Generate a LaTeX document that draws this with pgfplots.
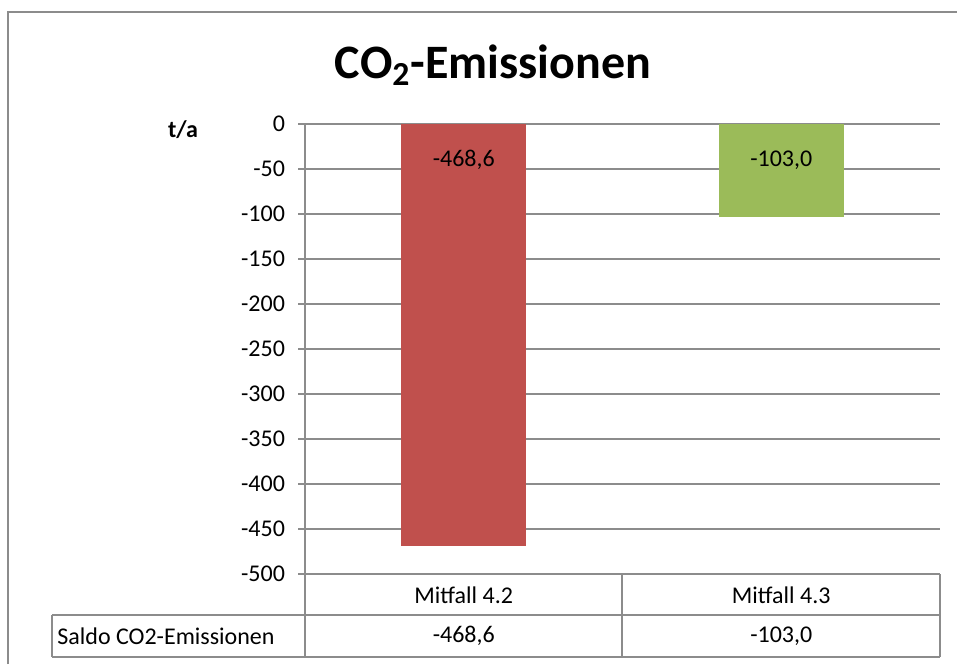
\documentclass[border=0pt]{standalone}
\usepackage{pgfplots}
\pgfplotsset{compat=1.18}
\usepackage{pgfplotstable}
\usepackage{fontspec}
\setmainfont{Carlito}
\definecolor{barred}{HTML}{C0504D}
\definecolor{bargreen}{HTML}{9BBB59}
\definecolor{gridc}{HTML}{8C8C8C}
\pgfplotstableread{
x y
1 -468.6
}\dataA
\pgfplotstableread{
x y
2 -103.0
}\dataB
\begin{document}
\begin{tikzpicture}
\useasboundingbox (0,0) rectangle (478.5pt,-332pt);
\begin{axis}[
  at={(152.5pt,-287pt)}, anchor=south west,
  scale only axis, width=317.5pt, height=225pt,
  xmin=0.5, xmax=2.5, ymin=-500, ymax=0,
  ytick={-500,-450,...,0},
  xtick=\empty, ytick pos=left,
  ymajorgrids, grid style={gridc, line width=0.8pt},
  axis line style={draw=none},
  tick align=outside, major tick length=3.5pt,
  y tick style={gridc, line width=0.8pt},
  ybar, bar width=62.5pt, bar shift=0pt,
  /pgf/number format/assume math mode=true,
  yticklabel style={font=\fontsize{12}{14}\selectfont, xshift=-3pt},
  clip=false,
  nodes near coords={\pgfmathprintnumber[fixed,fixed zerofill,precision=1,use comma,assume math mode=true]{\pgfplotspointmeta}},
  nodes near coords align={center},
  visualization depends on={\thisrow{y} \as \rawy},
  every node near coord/.append style={font=\fontsize{12}{14}\selectfont, text=black, anchor=center, yshift={-0.45pt*(\rawy)-18pt}},
]
\addplot[fill=barred, draw=none] table[x=x,y=y] {\dataA};
\addplot[fill=bargreen, draw=none] table[x=x,y=y] {\dataB};
\draw[gridc, line width=0.8pt] (rel axis cs:0,1) -- (rel axis cs:0,0);
\end{axis}
\begin{scope}[x=0.5pt,y=-0.5pt]
  % outer border
  \draw[gridc, line width=0.8pt] (8,664) -- (8,12) -- (957,12);
  % title
  \node[anchor=base, font=\fontsize{24}{28}\selectfont\bfseries, inner sep=0pt] at (493,78) {CO\textsubscript{2}-Emissionen};
  \node[font=\fontsize{12}{14}\selectfont\bfseries, inner sep=0pt] at (183,130) {t/a};
  % table
  \draw[gridc, line width=0.8pt] (305,574) -- (305,657);
  \draw[gridc, line width=0.8pt] (622,574) -- (622,657);
  \draw[gridc, line width=0.8pt] (940,574) -- (940,657);
  \draw[gridc, line width=0.8pt] (52,615) -- (52,657);
  \draw[gridc, line width=0.8pt] (52,615) -- (940,615);
  \draw[gridc, line width=0.8pt] (52,657) -- (940,657);
  \begin{scope}[every node/.style={font=\fontsize{12}{14}\selectfont, inner sep=0pt}]
    \node at (463.75,595) {Mitfall 4.2};
    \node at (781.25,595) {Mitfall 4.3};
    \node[anchor=west] at (57,636) {Saldo CO2-Emissionen};
    \node at (463.75,636) {-468,6};
    \node at (781.25,636) {-103,0};
  \end{scope}
\end{scope}
\end{tikzpicture}
\end{document}
